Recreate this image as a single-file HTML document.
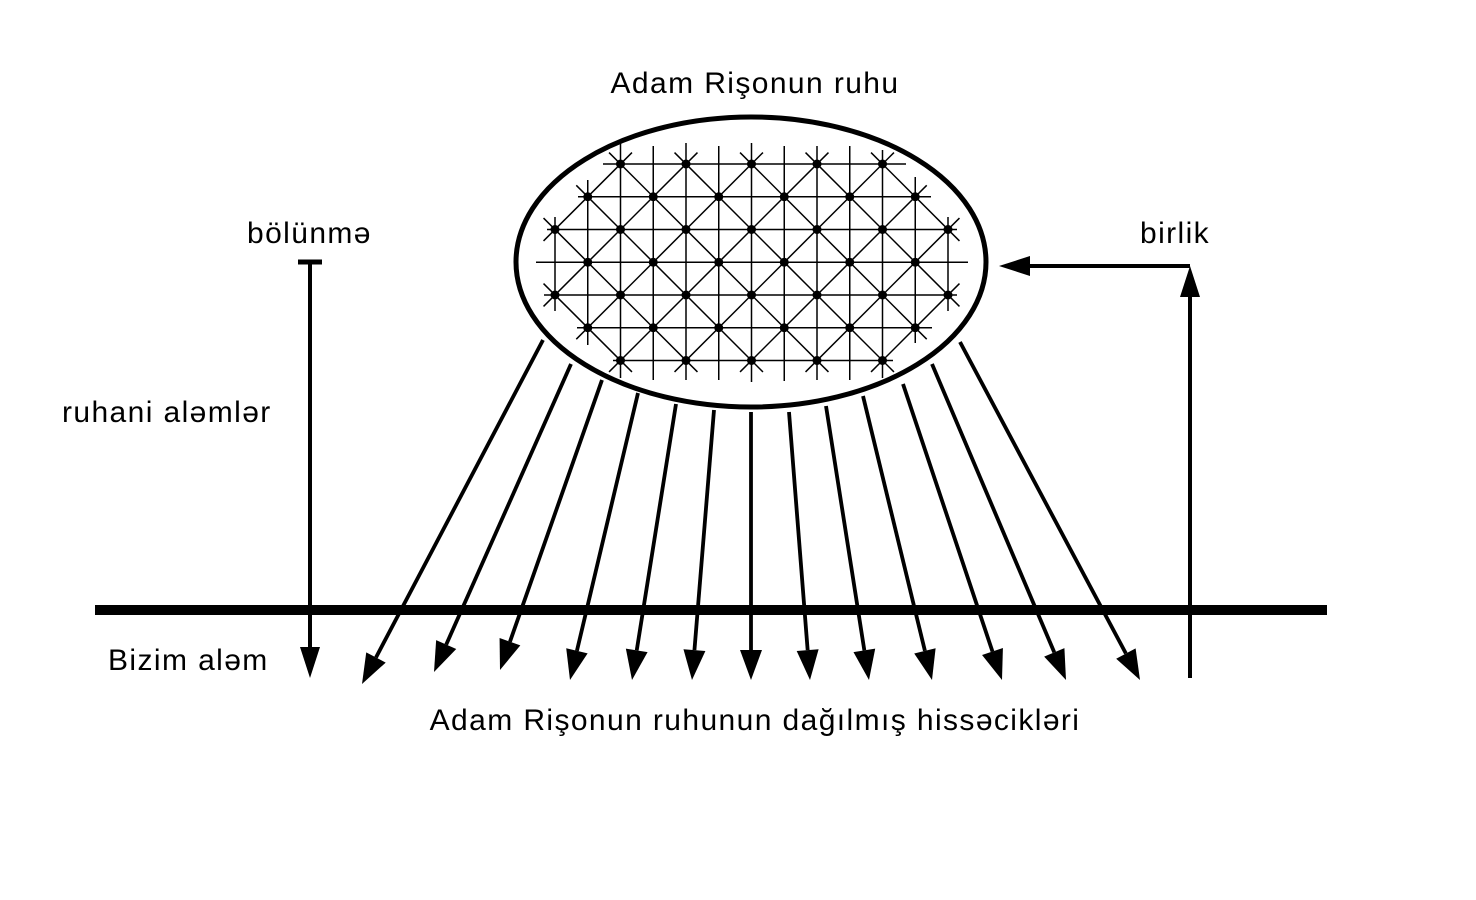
<!DOCTYPE html>
<html><head><meta charset="utf-8"><style>
html,body{margin:0;padding:0;background:#fff;}
svg{display:block;}
text{font-family:"Liberation Sans",sans-serif;font-size:30px;letter-spacing:1.4px;fill:#000;}
</style></head><body>
<svg id="s" width="1476" height="900" viewBox="0 0 1476 900" xmlns="http://www.w3.org/2000/svg">
<text x="755" y="93" text-anchor="middle">Adam Rişonun ruhu</text>
<text x="247" y="243">bölünmə</text>
<text x="1140" y="243">birlik</text>
<text x="62" y="422">ruhani aləmlər</text>
<text x="108" y="670">Bizim aləm</text>
<text x="755" y="730" text-anchor="middle">Adam Rişonun ruhunun dağılmış hissəcikləri</text>
<rect x="95" y="605" width="1232" height="10" fill="#000"/>
<g id="grid" stroke="#000" stroke-width="1.5"></g>
<ellipse cx="751" cy="262" rx="235" ry="145" fill="none" stroke="#000" stroke-width="5"/>
<g id="arr"></g>
<line x1="298" y1="262" x2="322" y2="262" stroke="#000" stroke-width="5"/>
<line x1="310" y1="262" x2="310" y2="650" stroke="#000" stroke-width="4"/>
<polygon points="300,647 320,647 310,678" fill="#000"/>
<line x1="1190" y1="678" x2="1190" y2="295" stroke="#000" stroke-width="4"/>
<polygon points="1180,297 1200,297 1190,266" fill="#000"/>
<line x1="1190" y1="266" x2="1028" y2="266" stroke="#000" stroke-width="4"/>
<polygon points="1030,256 1030,276 999,266" fill="#000"/>
</svg>
<script>
var NS="http://www.w3.org/2000/svg";
function el(p,t,a){var e=document.createElementNS(NS,t);for(var k in a)e.setAttribute(k,a[k]);p.appendChild(e);return e;}
var g=document.getElementById("grid");
var X=i=>555+32.75*i, Y=j=>164+32.75*j;
var vx=[[0,217,311],[1,180,345],[2,143,378],[3,146,380],[4,143,380],[5,146,380],[6,143,382],[7,146,381],[8,146,380],[9,146,380],[10,150,378],[11,177,343],[12,217,311]];
vx.forEach(v=>el(g,"line",{x1:X(v[0]),y1:v[1],x2:X(v[0]),y2:v[2]}));
var hy=[[0,603,906],[1,578,931],[2,547,957],[3,536,968],[4,544,957],[5,577,932],[6,613,893]];
hy.forEach(h=>el(g,"line",{x1:h[1],y1:Y(h[0]),x2:h[2],y2:Y(h[0])}));
var rows={0:[2,10],1:[1,11],2:[0,12],3:[1,11],4:[0,12],5:[1,11],6:[2,10]};
var dots=[];
for(var j=0;j<7;j++){for(var i=rows[j][0];i<=rows[j][1];i+=2)dots.push([i,j]);}
var kd1=d=>d[0]-d[1], kd2=d=>d[0]+d[1];
function diag(key){var m={};dots.forEach(d=>{var k=key(d);(m[k]=m[k]||[]).push(d);});
 for(var k in m){var a=m[k];a.sort((p,q)=>p[1]-q[1]);var f=a[0],l=a[a.length-1];
  var dx=(l[0]-f[0])/Math.max(1,l[1]-f[1]); if(a.length==1)dx=key===kd1?1:-1;
  var e=0.35;
  el(g,"line",{x1:X(f[0]-dx*e),y1:Y(f[1]-e),x2:X(l[0]+dx*e),y2:Y(l[1]+e)});}}
diag(kd1);diag(kd2);
dots.forEach(d=>el(g,"circle",{cx:X(d[0]),cy:Y(d[1]),r:4.5,fill:"#000",stroke:"none"}));
var A=document.getElementById("arr");
var L=[[543,340,362,684],[571,364,434,672],[602,380,500,670],[638,393,570,680],[676,404,632,680],[714,410,692,680],[751,412,751,680],[789,412,810,680],[826,406,869,680],[863,396,932,680],[903,384,1002,680],[932,364,1066,680],[960,342,1140,680]];
L.forEach(l=>{var dx=l[2]-l[0],dy=l[3]-l[1],n=Math.hypot(dx,dy),ux=dx/n,uy=dy/n,bl=30,w=11;
 var bx=l[2]-ux*bl,by=l[3]-uy*bl;
 el(A,"line",{x1:l[0],y1:l[1],x2:bx,y2:by,stroke:"#000","stroke-width":3.8});
 el(A,"polygon",{points:(bx-uy*w)+","+(by+ux*w)+" "+(bx+uy*w)+","+(by-ux*w)+" "+l[2]+","+l[3],fill:"#000"});});
</script>
</body></html>
